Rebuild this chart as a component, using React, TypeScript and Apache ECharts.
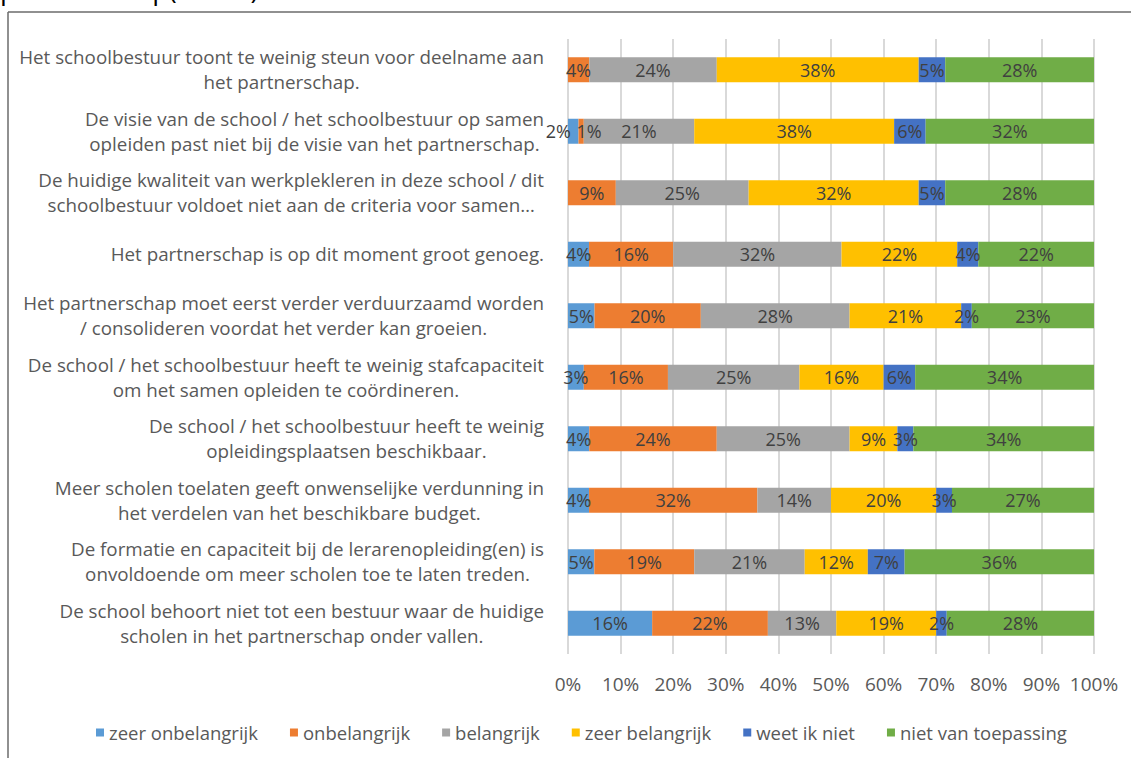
import React, { useEffect, useRef } from "react";
import * as echarts from "echarts";

const categories = [
  "Het schoolbestuur toont te weinig steun voor deelname aan\nhet partnerschap.",
  "De visie van de school / het schoolbestuur op samen\nopleiden past niet bij de visie van het partnerschap.",
  "De huidige kwaliteit van werkplekleren in deze school / dit\nschoolbestuur voldoet niet aan de criteria voor samen…",
  "Het partnerschap is op dit moment groot genoeg.",
  "Het partnerschap moet eerst verder verduurzaamd worden\n/ consolideren voordat het verder kan groeien.",
  "De school / het schoolbestuur heeft te weinig stafcapaciteit\nom het samen opleiden te coördineren.",
  "De school / het schoolbestuur heeft te weinig\nopleidingsplaatsen beschikbaar.",
  "Meer scholen toelaten geeft onwenselijke verdunning in\nhet verdelen van het beschikbare budget.",
  "De formatie en capaciteit bij de lerarenopleiding(en) is\nonvoldoende om meer scholen toe te laten treden.",
  "De school behoort niet tot een bestuur waar de huidige\nscholen in het partnerschap onder vallen.",
];

const seriesNames = [
  "zeer onbelangrijk",
  "onbelangrijk",
  "belangrijk",
  "zeer belangrijk",
  "weet ik niet",
  "niet van toepassing",
];

const zeerOnbelangrijk = [0, 2, 0, 4, 5, 3, 4, 4, 5, 16];
const onbelangrijk = [4, 1, 9, 16, 20, 16, 24, 32, 19, 22];
const belangrijk = [24, 21, 25, 32, 28, 25, 25, 14, 21, 13];
const zeerBelangrijk = [38, 38, 32, 22, 21, 16, 9, 20, 12, 19];
const weetIkNiet = [5, 6, 5, 4, 2, 6, 3, 3, 7, 2];
const nietVanToepassing = [28, 32, 28, 22, 23, 34, 34, 27, 36, 28];

const titleText = "partnerschap(N= 95):";

const colors = ["#5B9BD5", "#ED7D31", "#A5A5A5", "#FFC000", "#4472C4", "#70AD47"];
const FONT = "Open Sans";

export default function App() {
  const ref = useRef<HTMLDivElement>(null);
  useEffect(() => {
    if (!ref.current) return;
    const chart = echarts.init(ref.current, undefined, { renderer: "svg" });
    const all = [zeerOnbelangrijk, onbelangrijk, belangrijk, zeerBelangrijk, weetIkNiet, nietVanToepassing];
    const totals = categories.map((_, i) => all.reduce((s, arr) => s + arr[i], 0));
    // label nudges where Excel moved overlapping labels
    const labelOffsets: Record<string, [number, number]> = {
      "0-1": [-15, 0],
      "1-1": [8, 0],
    };
    const series = all.map((arr, si) => ({
      name: seriesNames[si],
      type: "bar",
      stack: "total",
      barWidth: 25,
      itemStyle: { color: colors[si] },
      label: {
        show: true,
        position: "inside",
        color: "#404040",
        fontSize: 18,
        fontFamily: FONT,
        formatter: (p: any) => (p.data.raw > 0 ? p.data.raw + "%" : ""),
      },
      data: arr.map((v, ci) => {
        const item: any = { value: (v / totals[ci]) * 100, raw: v };
        const off = labelOffsets[si + "-" + ci];
        if (off) item.label = { offset: off };
        return item;
      }),
    }));

    chart.setOption({
      animation: false,
      grid: { left: 568, right: 37, top: 39, bottom: 104, containLabel: false },
      xAxis: {
        type: "value",
        min: 0,
        max: 100,
        interval: 10,
        axisLine: { show: false },
        axisTick: { show: false },
        splitLine: { show: true, lineStyle: { color: "#d9d9d9", width: 2 } },
        axisLabel: {
          formatter: (v: number) => v + "%",
          color: "#595959",
          fontSize: 19,
          fontFamily: FONT,
          margin: 20,
        },
      },
      yAxis: {
        type: "category",
        inverse: true,
        data: categories,
        axisLine: { show: false },
        axisTick: { show: false },
        axisLabel: {
          margin: 24,
          align: "right",
          formatter: (v: string) =>
            v
              .split("\n")
              .map((l) => "{c|" + l + "}")
              .join("\n"),
          rich: {
            c: {
              align: "center",
              color: "#595959",
              fontSize: 18.8,
              fontFamily: FONT,
              lineHeight: 25,
            },
          },
        },
      },
      legend: {
        data: seriesNames,
        left: 91,
        top: 718,
        icon: "rect",
        itemWidth: 8,
        itemHeight: 8,
        itemGap: 32,
        textStyle: { color: "#595959", fontSize: 18.5, fontFamily: FONT },
      },
      graphic: [
        {
          type: "line",
          shape: { x1: 8, y1: 12, x2: 1131, y2: 12 },
          style: { stroke: "#6b6b6b", lineWidth: 1.5 },
        },
        {
          type: "line",
          shape: { x1: 8, y1: 12, x2: 8, y2: 758 },
          style: { stroke: "#6b6b6b", lineWidth: 1.5 },
        },
        {
          type: "text",
          left: 0,
          top: -25,
          style: { text: titleText, fontSize: 27, fontFamily: FONT, fill: "#000000" },
        },
      ],
      series,
    });
    return () => chart.dispose();
  }, []);
  return (
    <div
      ref={ref}
      style={{ position: "fixed", left: 0, top: 0, width: 1131, height: 758, background: "#ffffff" }}
    />
  );
}
